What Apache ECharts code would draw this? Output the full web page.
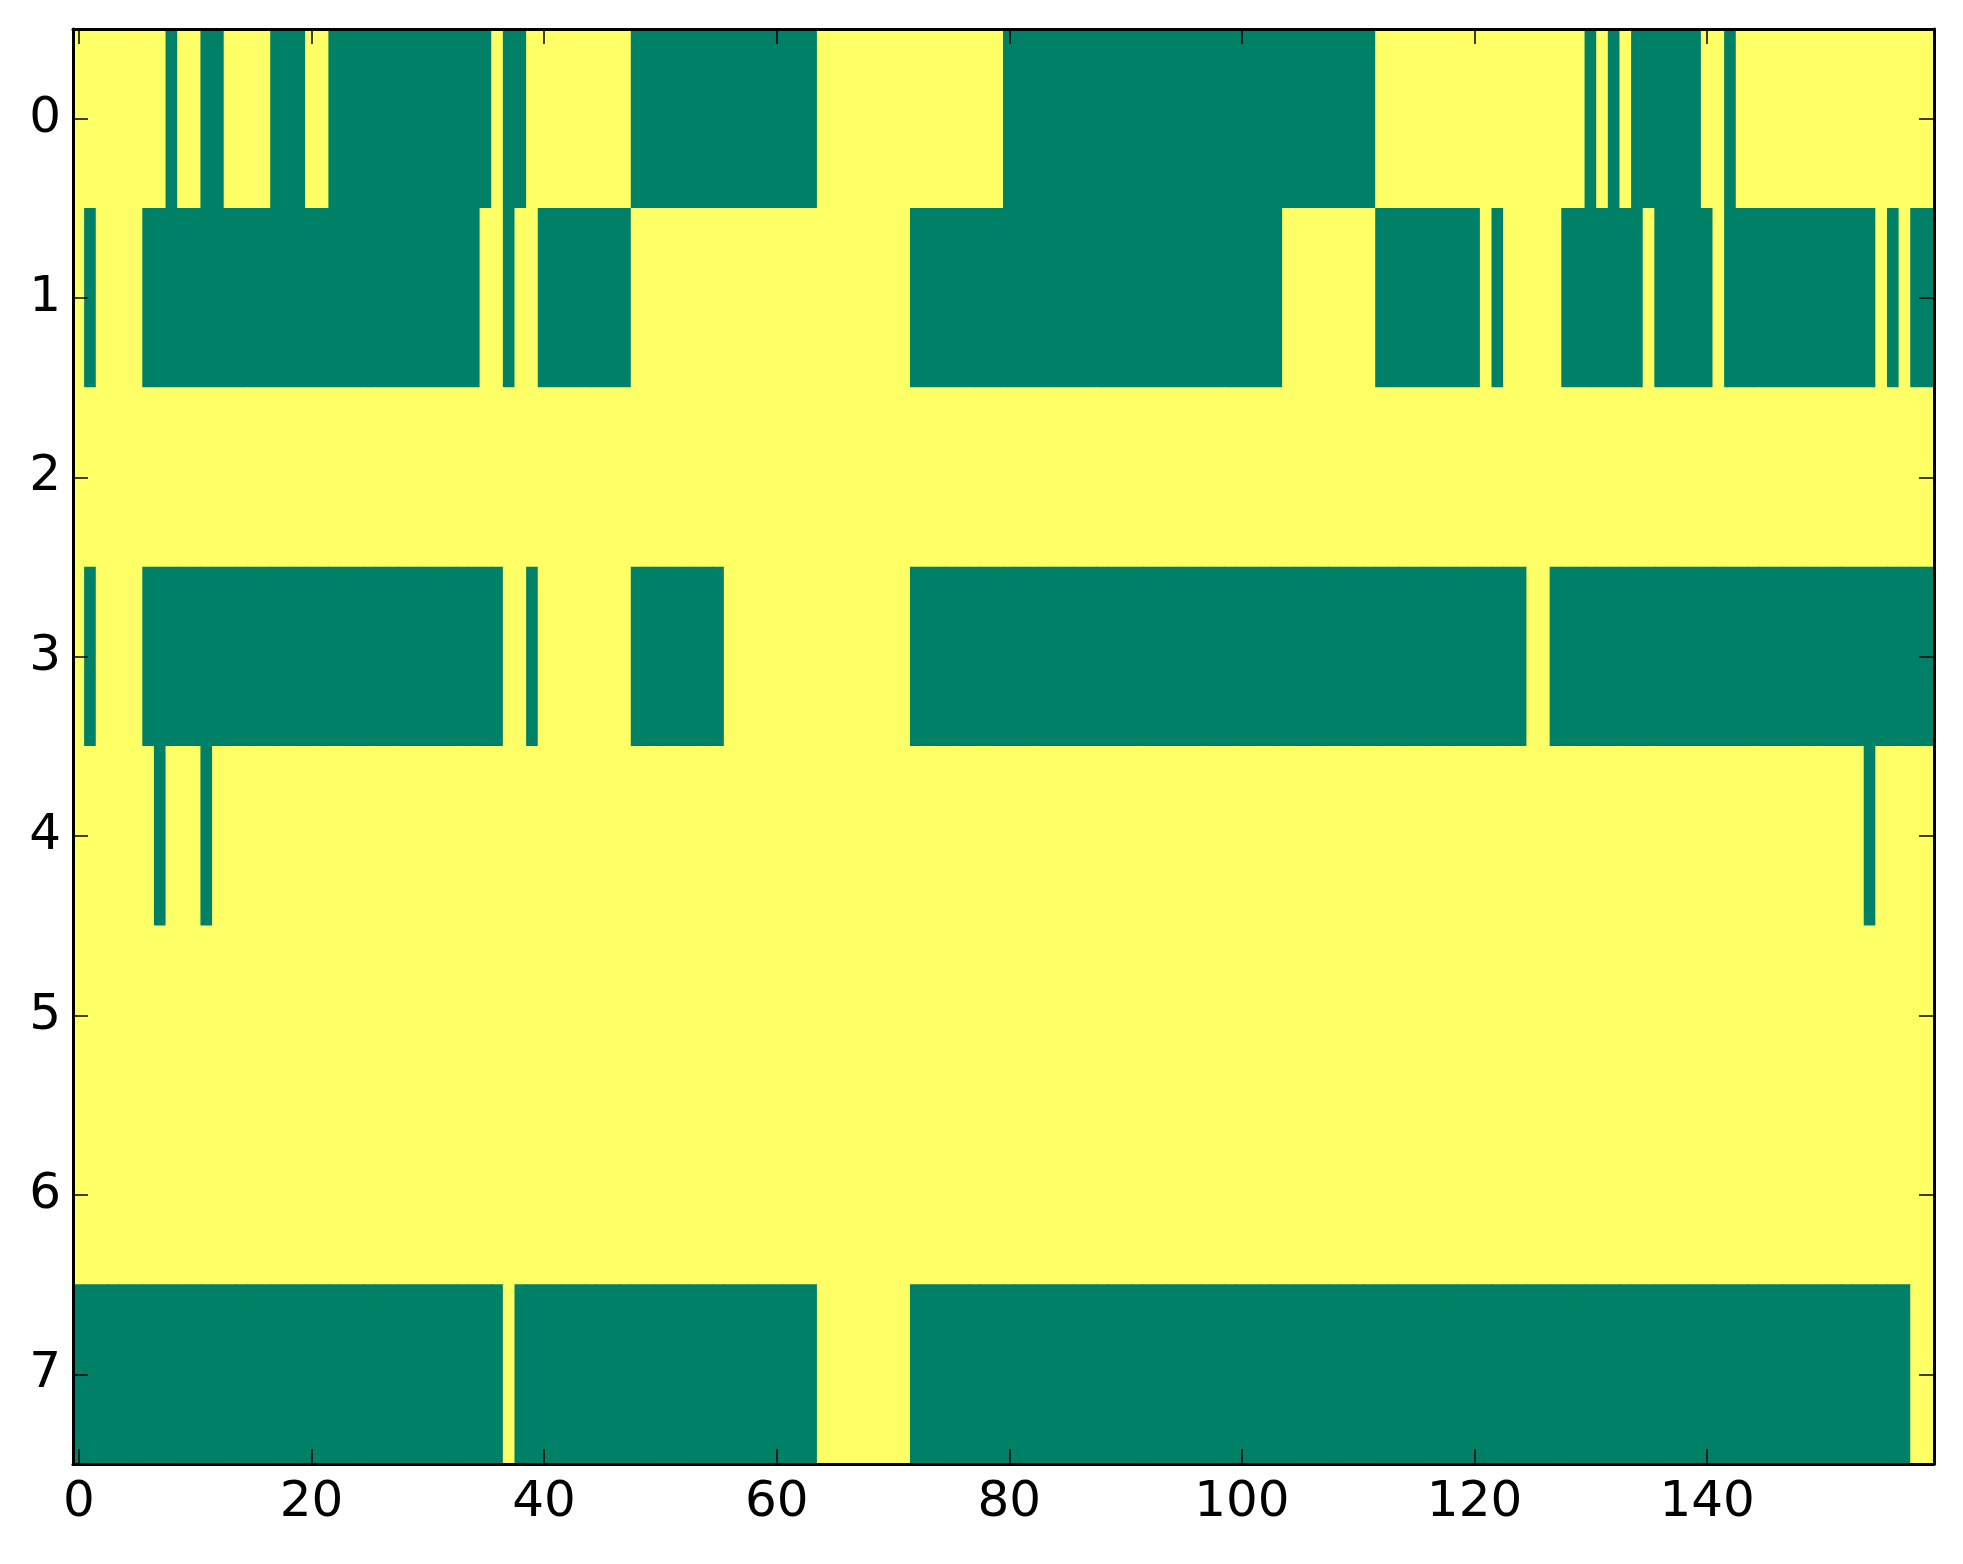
<!DOCTYPE html>
<html>
<head>
<meta charset="utf-8">
<script src="https://cdn.jsdelivr.net/npm/echarts@6/dist/echarts.min.js"></script>
<style>
html, body { margin: 0; padding: 0; background: #fff; }
#chart { width: 1963px; height: 1564px; }
</style>
</head>
<body>
<div id="chart"></div>
<script>
// 1 = yellow, 0 = green (summer colormap)
var row0 = [1,1,1,1,1,1,1,1,0,1, 1,0,0,1,1,1,1,0,0,0, 1,1,0,0,0,0,0,0,0,0, 0,0,0,0,0,0,1,0,0,1,
            1,1,1,1,1,1,1,1,0,0, 0,0,0,0,0,0,0,0,0,0, 0,0,0,0,1,1,1,1,1,1, 1,1,1,1,1,1,1,1,1,1,
            0,0,0,0,0,0,0,0,0,0, 0,0,0,0,0,0,0,0,0,0, 0,0,0,0,0,0,0,0,0,0, 0,0,1,1,1,1,1,1,1,1,
            1,1,1,1,1,1,1,1,1,1, 0,1,0,1,0,0,0,0,0,0, 1,1,0,1,1,1,1,1,1,1, 1,1,1,1,1,1,1,1,1,1];
var row1 = [1,0,1,1,1,1,0,0,0,0, 0,0,0,0,0,0,0,0,0,0, 0,0,0,0,0,0,0,0,0,0, 0,0,0,0,0,1,1,0,1,1,
            0,0,0,0,0,0,0,0,1,1, 1,1,1,1,1,1,1,1,1,1, 1,1,1,1,1,1,1,1,1,1, 1,1,0,0,0,0,0,0,0,0,
            0,0,0,0,0,0,0,0,0,0, 0,0,0,0,0,0,0,0,0,0, 0,0,0,0,1,1,1,1,1,1, 1,1,0,0,0,0,0,0,0,0,
            0,1,0,1,1,1,1,1,0,0, 0,0,0,0,0,1,0,0,0,0, 0,1,0,0,0,0,0,0,0,0, 0,0,0,0,0,1,0,1,0,0];
var row2 = [1,1,1,1,1,1,1,1,1,1, 1,1,1,1,1,1,1,1,1,1, 1,1,1,1,1,1,1,1,1,1, 1,1,1,1,1,1,1,1,1,1,
            1,1,1,1,1,1,1,1,1,1, 1,1,1,1,1,1,1,1,1,1, 1,1,1,1,1,1,1,1,1,1, 1,1,1,1,1,1,1,1,1,1,
            1,1,1,1,1,1,1,1,1,1, 1,1,1,1,1,1,1,1,1,1, 1,1,1,1,1,1,1,1,1,1, 1,1,1,1,1,1,1,1,1,1,
            1,1,1,1,1,1,1,1,1,1, 1,1,1,1,1,1,1,1,1,1, 1,1,1,1,1,1,1,1,1,1, 1,1,1,1,1,1,1,1,1,1];
var row3 = [1,0,1,1,1,1,0,0,0,0, 0,0,0,0,0,0,0,0,0,0, 0,0,0,0,0,0,0,0,0,0, 0,0,0,0,0,0,0,1,1,0,
            1,1,1,1,1,1,1,1,0,0, 0,0,0,0,0,0,1,1,1,1, 1,1,1,1,1,1,1,1,1,1, 1,1,0,0,0,0,0,0,0,0,
            0,0,0,0,0,0,0,0,0,0, 0,0,0,0,0,0,0,0,0,0, 0,0,0,0,0,0,0,0,0,0, 0,0,0,0,0,0,0,0,0,0,
            0,0,0,0,0,1,1,0,0,0, 0,0,0,0,0,0,0,0,0,0, 0,0,0,0,0,0,0,0,0,0, 0,0,0,0,0,0,0,0,0,0];
var row4 = [1,1,1,1,1,1,1,0,1,1, 1,0,1,1,1,1,1,1,1,1, 1,1,1,1,1,1,1,1,1,1, 1,1,1,1,1,1,1,1,1,1,
            1,1,1,1,1,1,1,1,1,1, 1,1,1,1,1,1,1,1,1,1, 1,1,1,1,1,1,1,1,1,1, 1,1,1,1,1,1,1,1,1,1,
            1,1,1,1,1,1,1,1,1,1, 1,1,1,1,1,1,1,1,1,1, 1,1,1,1,1,1,1,1,1,1, 1,1,1,1,1,1,1,1,1,1,
            1,1,1,1,1,1,1,1,1,1, 1,1,1,1,1,1,1,1,1,1, 1,1,1,1,1,1,1,1,1,1, 1,1,1,1,0,1,1,1,1,1];
var row5 = [1,1,1,1,1,1,1,1,1,1, 1,1,1,1,1,1,1,1,1,1, 1,1,1,1,1,1,1,1,1,1, 1,1,1,1,1,1,1,1,1,1,
            1,1,1,1,1,1,1,1,1,1, 1,1,1,1,1,1,1,1,1,1, 1,1,1,1,1,1,1,1,1,1, 1,1,1,1,1,1,1,1,1,1,
            1,1,1,1,1,1,1,1,1,1, 1,1,1,1,1,1,1,1,1,1, 1,1,1,1,1,1,1,1,1,1, 1,1,1,1,1,1,1,1,1,1,
            1,1,1,1,1,1,1,1,1,1, 1,1,1,1,1,1,1,1,1,1, 1,1,1,1,1,1,1,1,1,1, 1,1,1,1,1,1,1,1,1,1];
var row6 = [1,1,1,1,1,1,1,1,1,1, 1,1,1,1,1,1,1,1,1,1, 1,1,1,1,1,1,1,1,1,1, 1,1,1,1,1,1,1,1,1,1,
            1,1,1,1,1,1,1,1,1,1, 1,1,1,1,1,1,1,1,1,1, 1,1,1,1,1,1,1,1,1,1, 1,1,1,1,1,1,1,1,1,1,
            1,1,1,1,1,1,1,1,1,1, 1,1,1,1,1,1,1,1,1,1, 1,1,1,1,1,1,1,1,1,1, 1,1,1,1,1,1,1,1,1,1,
            1,1,1,1,1,1,1,1,1,1, 1,1,1,1,1,1,1,1,1,1, 1,1,1,1,1,1,1,1,1,1, 1,1,1,1,1,1,1,1,1,1];
var row7 = [0,0,0,0,0,0,0,0,0,0, 0,0,0,0,0,0,0,0,0,0, 0,0,0,0,0,0,0,0,0,0, 0,0,0,0,0,0,0,1,0,0,
            0,0,0,0,0,0,0,0,0,0, 0,0,0,0,0,0,0,0,0,0, 0,0,0,0,1,1,1,1,1,1, 1,1,0,0,0,0,0,0,0,0,
            0,0,0,0,0,0,0,0,0,0, 0,0,0,0,0,0,0,0,0,0, 0,0,0,0,0,0,0,0,0,0, 0,0,0,0,0,0,0,0,0,0,
            0,0,0,0,0,0,0,0,0,0, 0,0,0,0,0,0,0,0,0,0, 0,0,0,0,0,0,0,0,0,0, 0,0,0,0,0,0,0,0,1,1];
var rows = [row0, row1, row2, row3, row4, row5, row6, row7];

var colLabels = [];
for (var c = 0; c < row0.length; c++) colLabels.push(String(c));
var rowLabels = ['0','1','2','3','4','5','6','7'];
var xTickStep = 20;

var cells = [];
for (var r = 0; r < rows.length; r++) {
	for (var c = 0; c < rows[r].length; c++) {
		cells.push([c, r, rows[r][c]]);
	}
}

var font = 'DejaVu Sans';
function everyX(i) { return i % xTickStep === 0; }

function xAxisCfg(pos, showLabel) {
	return {
		type: 'category',
		data: colLabels,
		position: pos,
		z: 10,
		axisLine: { show: true, lineStyle: { color: '#000', width: 3 } },
		axisTick: { show: true, inside: true, length: 15, alignWithLabel: true, interval: everyX,
			lineStyle: { color: '#000', width: 1.5 } },
		axisLabel: { show: showLabel, interval: everyX, color: '#000', fontSize: 50,
			fontFamily: font, margin: 14 },
		splitLine: { show: false }
	};
}
function yAxisCfg(pos, showLabel) {
	return {
		type: 'category',
		data: rowLabels,
		inverse: true,
		position: pos,
		z: 10,
		axisLine: { show: true, lineStyle: { color: '#000', width: 3 } },
		axisTick: { show: true, inside: true, length: 15, alignWithLabel: true, interval: 0,
			lineStyle: { color: '#000', width: 1.5 } },
		axisLabel: { show: showLabel, interval: 0, color: '#000', fontSize: 50,
			fontFamily: font, margin: 12 },
		splitLine: { show: false }
	};
}

//每个格子画成矩形，稍微放大一点免得出现缝隙
function renderCell(params, api) {
	var p = api.coord([api.value(0), api.value(1)]);
	var s = api.size([1, 1]);
	return {
		type: 'rect',
		shape: { x: p[0] - s[0] / 2 - 0.5, y: p[1] - s[1] / 2 - 0.5, width: s[0] + 1, height: s[1] + 1 },
		style: { fill: api.visual('color') }
	};
}

var chart = echarts.init(document.getElementById('chart'));
chart.setOption({
	animation: false,
	backgroundColor: '#fff',
	grid: { left: 73, right: 29, top: 29, bottom: 100, containLabel: false },
	xAxis: [xAxisCfg('bottom', true), xAxisCfg('top', false)],
	yAxis: [yAxisCfg('left', true), yAxisCfg('right', false)],
	visualMap: {
		type: 'piecewise',
		show: false,
		dimension: 2,
		pieces: [
			{ value: 0, color: '#008066' },
			{ value: 1, color: '#ffff66' }
		]
	},
	series: [{
		type: 'custom',
		xAxisIndex: 0,
		yAxisIndex: 0,
		data: cells,
		renderItem: renderCell,
		clip: true,
		z: 1,
		emphasis: { disabled: true }
	}]
});
</script>
</body>
</html>
